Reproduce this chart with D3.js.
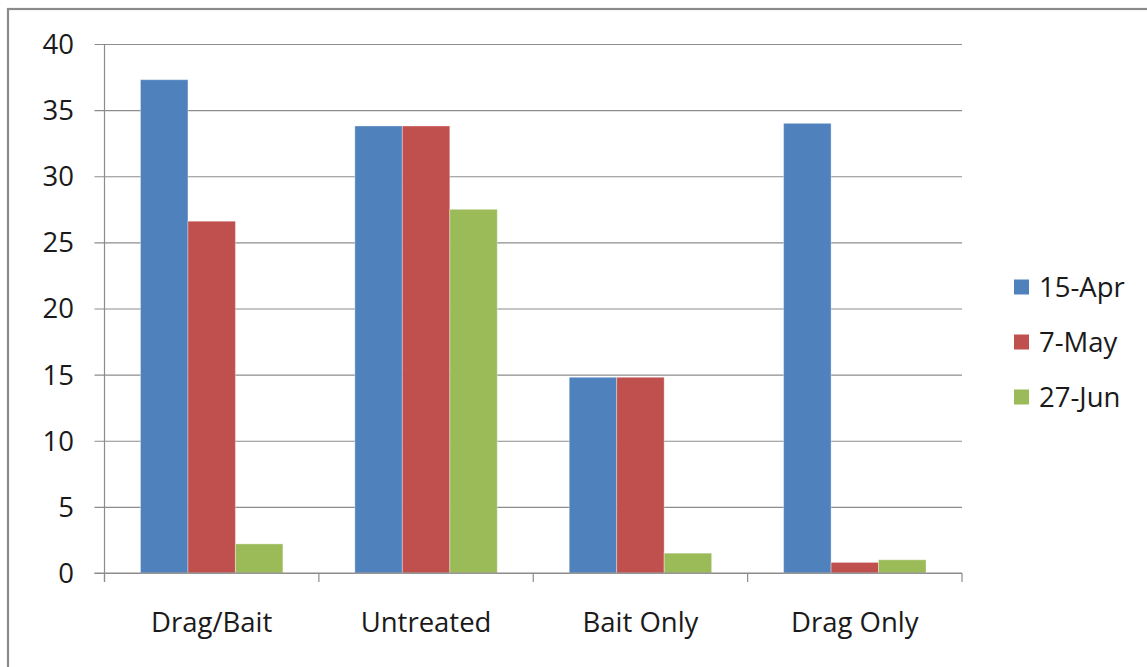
<!DOCTYPE html>
<html>
<head>
<meta charset="utf-8">
<script src="https://cdn.jsdelivr.net/npm/d3@7"></script>
<style>
  html, body { margin: 0; padding: 0; background: #fff; overflow: hidden; }
  svg { display: block; font-family: "Open Sans", sans-serif; }
</style>
</head>
<body>
<svg id="chart" width="1147" height="667"></svg>
<script>
// Treatments along the x axis
const categories = ["Drag/Bait", "Untreated", "Bait Only", "Drag Only"];
// Sampling dates (one series each)
const seriesNames = ["15-Apr", "7-May", "27-Jun"];
const apr15 = [37.3, 33.8, 14.8, 34.0];
const may7 = [26.6, 33.8, 14.8, 0.8];
const jun27 = [2.2, 27.5, 1.5, 1.0];
const yTicks = [0, 5, 10, 15, 20, 25, 30, 35, 40];
const colors = ["#4F81BD", "#C0504D", "#9BBB59"];

const seriesValues = [apr15, may7, jun27];
const fontSize = 27.5;

const svg = d3.select("#chart");

// Outer chart frame (runs off the right and bottom edges)
svg.append("rect")
  .attr("x", 8).attr("y", 9)
  .attr("width", 1200).attr("height", 700)
  .attr("fill", "#fff")
  .attr("stroke", "#8a8a8a")
  .attr("stroke-width", 2.2);

const plot = { left: 104.5, right: 962, top: 44, bottom: 573 };

const y = d3.scaleLinear().domain([0, 40]).range([plot.bottom, plot.top]);
const x0 = d3.scaleBand().domain(categories).range([plot.left, plot.right]).paddingInner(0).paddingOuter(0);
const x1 = d3.scaleBand().domain(seriesNames).range([0, x0.bandwidth()]).paddingInner(0).paddingOuter(0.758);

// Horizontal gridlines with tick stubs on the left
const yAxis = d3.axisLeft(y).tickValues(yTicks).tickSize(-(plot.right - plot.left)).tickPadding(0).tickFormat("");
const gy = svg.append("g").attr("transform", `translate(${plot.left},0)`).call(yAxis);
gy.select(".domain").remove();
gy.selectAll(".tick line")
  .attr("x1", -10)
  .attr("stroke", "#8c8c8c")
  .attr("stroke-width", 1.2);

// Y tick labels
svg.append("g").selectAll("text")
  .data(yTicks)
  .join("text")
  .attr("x", 74)
  .attr("y", d => y(d))
  .attr("dy", "0.36em")
  .attr("text-anchor", "end")
  .attr("font-size", fontSize)
  .attr("fill", "#1a1a1a")
  .text(d => d);

// Bars
const groups = svg.append("g").selectAll("g")
  .data(categories)
  .join("g")
  .attr("transform", d => `translate(${x0(d)},0)`);

groups.selectAll("rect")
  .data((c, i) => seriesNames.map((s, j) => ({ s, v: seriesValues[j][i], j })))
  .join("rect")
  .attr("x", d => x1(d.s))
  .attr("y", d => y(d.v))
  .attr("width", x1.bandwidth())
  .attr("height", d => y(0) - y(d.v))
  .attr("fill", d => colors[d.j])
  .attr("stroke", "#fff")
  .attr("stroke-opacity", 0.35)
  .attr("stroke-width", 1);

// Y axis line
svg.append("line")
  .attr("x1", plot.left).attr("x2", plot.left)
  .attr("y1", plot.top).attr("y2", plot.bottom + 9)
  .attr("stroke", "#8c8c8c").attr("stroke-width", 1.2);

// X axis line with category boundary ticks
svg.append("line")
  .attr("x1", plot.left - 10).attr("x2", plot.right)
  .attr("y1", plot.bottom).attr("y2", plot.bottom)
  .attr("stroke", "#8c8c8c").attr("stroke-width", 1.2);
const boundaries = categories.map(c => x0(c)).concat([x0(categories[categories.length - 1]) + x0.bandwidth()]);
svg.append("g").selectAll("line")
  .data(boundaries)
  .join("line")
  .attr("x1", d => d).attr("x2", d => d)
  .attr("y1", plot.bottom).attr("y2", plot.bottom + 9)
  .attr("stroke", "#8c8c8c").attr("stroke-width", 1.2);

// Category labels
svg.append("g").selectAll("text")
  .data(categories)
  .join("text")
  .attr("x", d => x0(d) + x0.bandwidth() / 2)
  .attr("y", 622)
  .attr("dy", "0.36em")
  .attr("text-anchor", "middle")
  .attr("font-size", fontSize)
  .attr("fill", "#1a1a1a")
  .text(d => d);

// Legend
const legend = svg.append("g").selectAll("g")
  .data(seriesNames)
  .join("g")
  .attr("transform", (d, i) => `translate(1014,${287 + i * 55})`);
legend.append("rect")
  .attr("x", 0).attr("y", -7.5)
  .attr("width", 15).attr("height", 15)
  .attr("fill", (d, i) => colors[i]);
legend.append("text")
  .attr("x", 25)
  .attr("y", 0)
  .attr("dy", "0.36em")
  .attr("font-size", fontSize)
  .attr("fill", "#1a1a1a")
  .text(d => d);
</script>
</body>
</html>
